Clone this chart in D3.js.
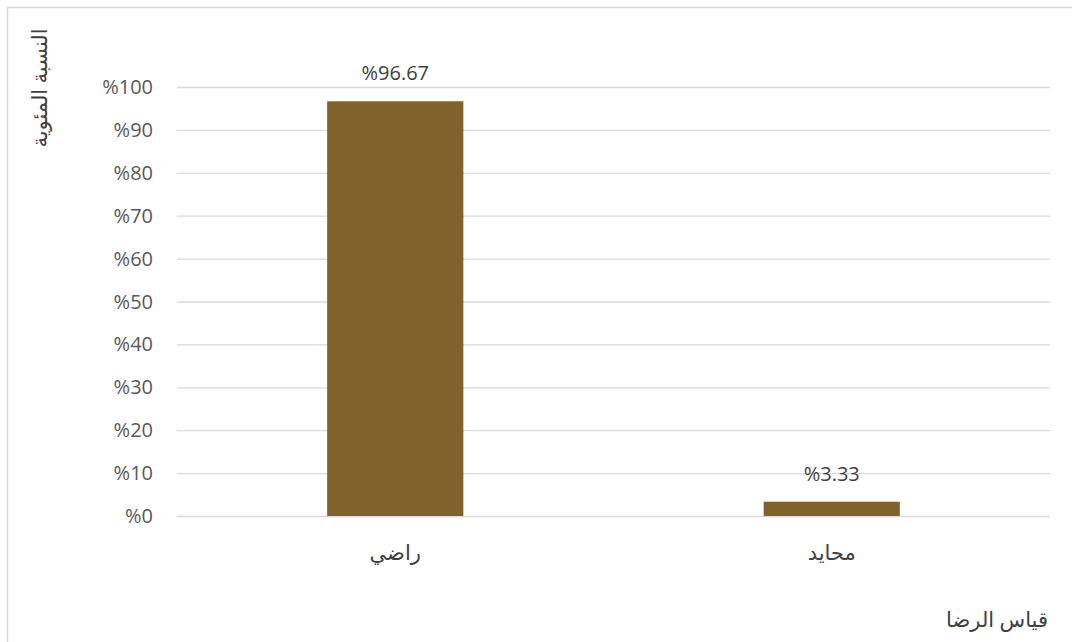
<!DOCTYPE html>
<html>
<head>
<meta charset="utf-8">
<script src="https://cdn.jsdelivr.net/npm/d3@7"></script>
<style>
  body { margin: 0; background: #fff; }
  text { font-family: "Open Sans", "DejaVu Sans", sans-serif; }
</style>
</head>
<body>
<svg id="chart"></svg>
<script>
const categories = ["راضي", "محايد"];
const values = [96.67, 3.33];
const yTicks = [0, 10, 20, 30, 40, 50, 60, 70, 80, 90, 100];
const yTitle = "النسبة المئوية";
const xTitle = "قياس الرضا";

const width = 1072, height = 642;
const svg = d3.select("#chart").attr("width", width).attr("height", height);

// outer frame
svg.append("rect")
    .attr("x", 7.5).attr("y", 7.5)
    .attr("width", width + 10).attr("height", height + 10)
    .attr("fill", "none")
    .attr("stroke", "#d9d9d9")
    .attr("stroke-width", 1.5);

const plotLeft = 177, plotRight = 1050, plotTop = 87, plotBottom = 516;

const x = d3.scaleBand().domain(categories).range([plotLeft, plotRight]).paddingInner(0.688).paddingOuter(0.344);
const y = d3.scaleLinear().domain([0, 100]).range([plotBottom, plotTop]);

// gridlines
svg.append("g")
    .selectAll("line")
    .data(yTicks)
    .enter().append("line")
    .attr("x1", plotLeft).attr("x2", plotRight)
    .attr("y1", d => y(d) + 0.5).attr("y2", d => y(d) + 0.5)
    .style("stroke", "#d9d9d9")
    .style("stroke-width", 1.3);

// y tick labels
svg.append("g")
    .selectAll("text")
    .data(yTicks)
    .enter().append("text")
    .attr("x", 153)
    .attr("y", d => y(d))
    .attr("dy", "0.35em")
    .attr("text-anchor", "end")
    .attr("font-size", 20)
    .attr("fill", "#595959")
    .text(d => "%" + d);

// bars
svg.append("g")
    .selectAll("rect")
    .data(values)
    .enter().append("rect")
    .attr("x", (d, i) => x(categories[i]))
    .attr("width", x.bandwidth())
    .attr("y", d => y(d))
    .attr("height", d => y(0) - y(d))
    .attr("fill", "#80622d");

// value labels
svg.append("g")
    .selectAll("text")
    .data(values)
    .enter().append("text")
    .attr("x", (d, i) => x(categories[i]) + x.bandwidth() / 2)
    .attr("y", d => y(d) - 28)
    .attr("dy", "0.35em")
    .attr("text-anchor", "middle")
    .attr("font-size", 20)
    .attr("fill", "#404040")
    .text(d => "%" + d.toFixed(2));

// category labels
svg.append("g")
    .selectAll("text")
    .data(categories)
    .enter().append("text")
    .attr("x", d => x(d) + x.bandwidth() / 2)
    .attr("y", 553)
    .attr("dy", "0.35em")
    .attr("text-anchor", "middle")
    .attr("font-size", 21)
    .attr("fill", "#404040")
    .text(d => d);

// axis titles
svg.append("text")
    .attr("transform", "translate(40,88) rotate(-90)")
    .attr("dy", "0.35em")
    .attr("text-anchor", "middle")
    .attr("font-size", 21)
    .attr("fill", "#404040")
    .text(yTitle);

svg.append("text")
    .attr("x", 1048)
    .attr("y", 620)
    .attr("dy", "0.35em")
    .attr("text-anchor", "end")
    .attr("font-size", 21)
    .attr("fill", "#404040")
    .text(xTitle);
</script>
</body>
</html>
